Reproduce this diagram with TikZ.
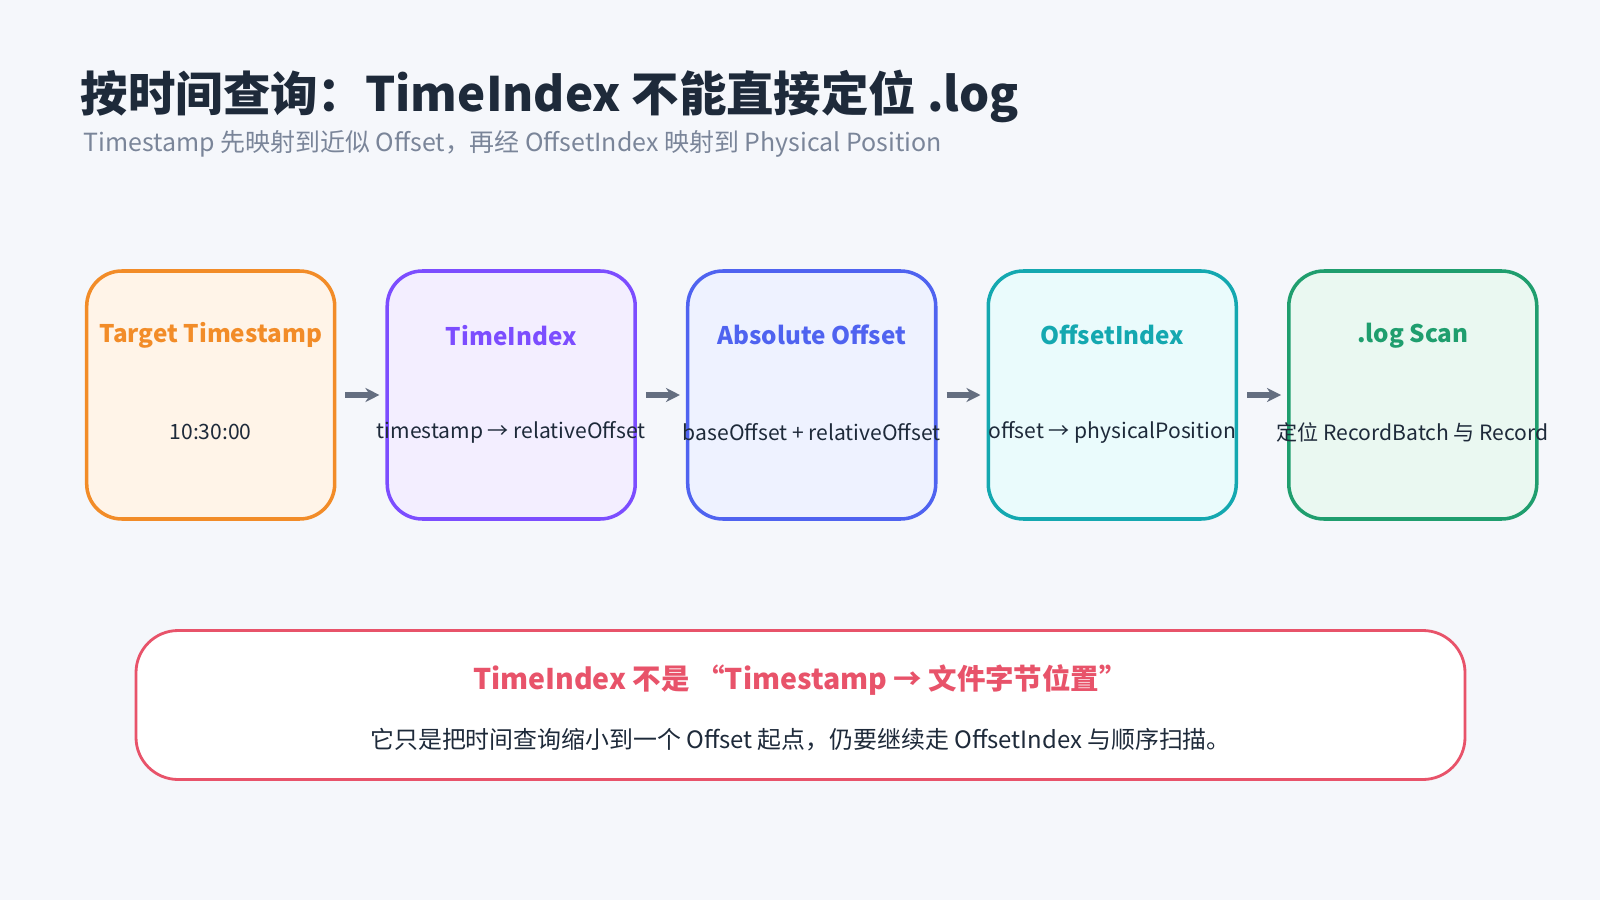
\documentclass[tikz,border=0pt]{standalone}
\usepackage{fontspec}
\setmainfont{Noto Sans CJK SC}
\usetikzlibrary{positioning,arrows.meta}
\definecolor{bgc}{HTML}{F5F7FB}
\definecolor{titlec}{HTML}{1E2A3A}
\definecolor{subc}{HTML}{7A8599}
\definecolor{arrc}{HTML}{646E80}
\definecolor{oran}{HTML}{F28C28}\definecolor{oranf}{HTML}{FFF4E8}
\definecolor{purp}{HTML}{7C4DFF}\definecolor{purpf}{HTML}{F3EEFF}
\definecolor{blu}{HTML}{4F63F0}\definecolor{bluf}{HTML}{EEF2FF}
\definecolor{tea}{HTML}{14A8B0}\definecolor{teaf}{HTML}{EAFBFC}
\definecolor{gre}{HTML}{1F9E6E}\definecolor{gref}{HTML}{EAF8F1}
\definecolor{redc}{HTML}{E8536A}
\tikzset{
  step/.style={draw=#1,line width=1pt,rounded corners=10pt,minimum width=2.48cm,minimum height=2.48cm},
  steptitle/.style={font=\fontsize{6.9}{8}\selectfont\bfseries},
  stepbody/.style={font=\fontsize{6}{7}\selectfont,text=titlec},
  flow/.style={-{Stealth[length=4pt,width=4pt]},line width=1.5pt,draw=arrc,shorten <=0.09cm,shorten >=0.06cm}
}
\begin{document}
\begin{tikzpicture}
    \useasboundingbox[fill=bgc] (0,0) rectangle (16,9);
    \node[anchor=base west,font=\fontsize{13.5}{16}\selectfont\bfseries,text=titlec,inner sep=0] (title) at (0.8,7.88) {按时间查询：TimeIndex 不能直接定位 .log}; % title
    \node[anchor=base west,font=\fontsize{7.1}{9}\selectfont,text=subc,inner sep=0] (sub) at (0.83,7.48) {Timestamp 先映射到近似 Offset，再经 OffsetIndex 映射到 Physical Position}; % subtitle
    % steps
    \node[step=oran,fill=oranf] (ts) at (2.107,5.05) {};
    \node[step=purp,fill=purpf,right=0.49cm of ts] (ti) {};
    \node[step=blu,fill=bluf,right=0.49cm of ti] (ao) {};
    \node[step=tea,fill=teaf,right=0.49cm of ao] (oi) {};
    \node[step=gre,fill=gref,right=0.49cm of oi] (ls) {};
    \foreach \n/\c/\t/\b in {ts/oran/Target Timestamp/10:30:00,
        ti/purp/TimeIndex/timestamp → relativeOffset,
        ao/blu/Absolute Offset/baseOffset + relativeOffset,
        oi/tea/OffsetIndex/offset → physicalPosition,
        ls/gre/.log Scan/定位 RecordBatch 与 Record}{
      \node[steptitle,text=\c] (\n-t) at ([yshift=-0.66cm]\n.north) {\t};
      \node[stepbody] (\n-b) at ([yshift=-1.63cm]\n.north) {\b};
    }
    \draw[flow] (ts) -- (ti);
    \draw[flow] (ti) -- (ao);
    \draw[flow] (ao) -- (oi);
    \draw[flow] (oi) -- (ls);
    % note
    \node[draw=redc,fill=white,line width=0.8pt,rounded corners=12pt,minimum width=13.29cm,minimum height=1.49cm] (note) at (8.005,1.95) {};
    \node[font=\fontsize{8.1}{10}\selectfont\bfseries,text=redc] (note-t) at ([yshift=-0.51cm]note.north) {TimeIndex 不是 “Timestamp → 文件字节位置”};
    \node[font=\fontsize{6.8}{8}\selectfont,text=titlec] (note-b) at ([yshift=-1.11cm]note.north) {它只是把时间查询缩小到一个 Offset 起点，仍要继续走 OffsetIndex 与顺序扫描。};
\end{tikzpicture}
\end{document}
